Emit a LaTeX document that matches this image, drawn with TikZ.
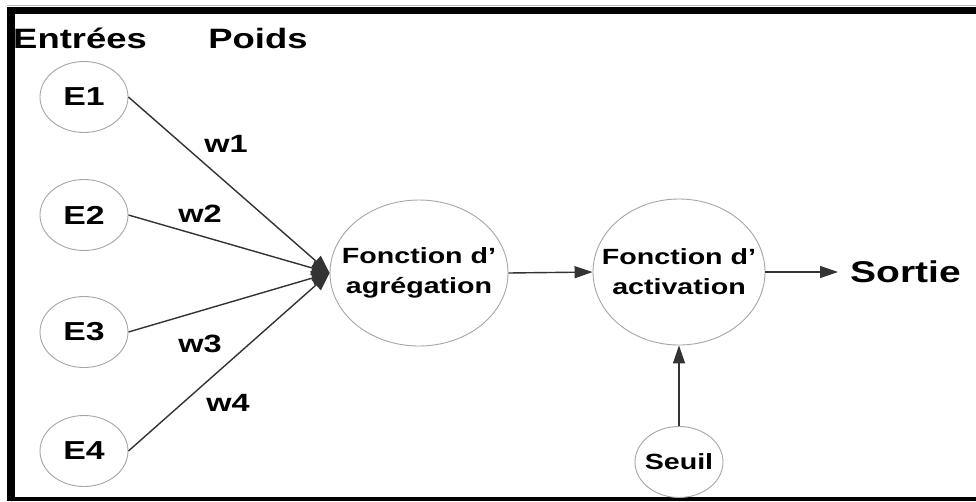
\documentclass[tikz,border=0pt]{standalone}
\usepackage{fontspec}
\setmainfont{Liberation Sans}[FakeStretch=1.3]
\usetikzlibrary{shapes.geometric,arrows.meta}
\begin{document}
\begin{tikzpicture}[x=1pt,y=-1pt,
  bubble/.style={ellipse,draw=black!35,line width=0.9pt,inner sep=0pt},
  small/.style={bubble,minimum width=88pt,minimum height=71pt},
  big/.style={bubble,minimum width=176pt,minimum height=146pt},
  txt/.style={inner sep=0pt,align=center,font=\bfseries\fontsize{22}{30}\selectfont},
  lbl/.style={inner sep=0pt,font=\bfseries\fontsize{25}{30}\selectfont},
  title/.style={inner sep=0pt,font=\bfseries\fontsize{28}{32}\selectfont},
  wire/.style={draw=black!80,line width=1.4pt},
  tip/.style={-{Triangle[length=18pt,width=12pt]}},
  fanin/.style={-{Triangle[length=18pt,width=14pt]}}]
% page and frame
\useasboundingbox (0,0) rectangle (976,501);
\fill[white] (0,0) rectangle (976,501);
\draw[black!30,line width=1pt] (7,5.5) -- (976,5.5);
\fill[black] (7,7) rectangle (976,14);
\fill[black] (7,7) rectangle (15,501);
\fill[black] (7,497) rectangle (976,501);
% column titles
\node[title] (tin) at (80,38) {Entrées};
\node[title] (tw) at (258,38) {Poids};
% input nodes
\node[small] (e1) at (84,97) {};
\node[small] (e2) at (84,215) {};
\node[small] (e3) at (84,332) {};
\node[small] (e4) at (84,451) {};
\foreach \i in {1,...,4}
  \node[lbl,font=\bfseries\fontsize{26}{30}\selectfont] (e\i-t) at (e\i) {E\i};
% processing nodes
\node[big,minimum width=178pt] (agg) at (419,273) {};
\node[txt] (agg-t) at (agg) {Fonction d’\\agrégation};
\node[big,minimum width=172pt] (act) at (679,272) {};
\node[txt] (act-t) at (act) {Fonction d’\\activation};
\node[small] (seuil) at (679,462) {};
\node[txt,font=\bfseries\fontsize{22}{26}\selectfont] (seuil-t) at (seuil) {Seuil};
\coordinate (out) at (838,272);
\node[title,anchor=west,font=\bfseries\fontsize{30}{34}\selectfont] (sortie) at (850,272) {Sortie};
% weighted connections
\foreach \i in {1,...,4}
  \draw[wire,fanin] (e\i.east) -- (agg.west);
\node[lbl] (w1) at (226,144) {w1};
\node[lbl] (w2) at (200,214) {w2};
\node[lbl] (w3) at (200,344) {w3};
\node[lbl] (w4) at (228,403) {w4};
% signal flow
\draw[wire,tip] (agg.east) -- (act.west);
\draw[wire,tip] (act.east) -- (out);
\draw[wire,tip] (seuil.north) -- (act.south);
\end{tikzpicture}
\end{document}
